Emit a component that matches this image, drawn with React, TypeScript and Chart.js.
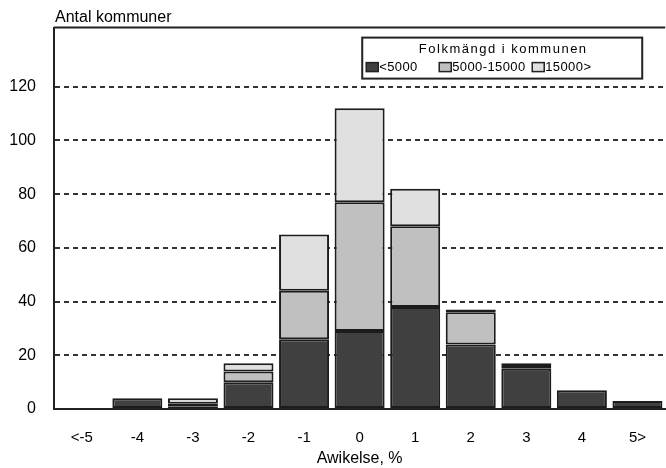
import React, { useEffect, useRef } from "react";
import { Chart, registerables } from "chart.js";

Chart.register(...registerables);

const categories = ["<-5", "-4", "-3", "-2", "-1", "0", "1", "2", "3", "4", "5>"];
const seriesNames = ["<5000", "5000-15000", "15000>"];
const small = [0, 4, 1, 10, 26, 29, 38, 24, 15, 7, 3];
const medium = [0, 0, 1, 4, 18, 48, 30, 12, 1, 0, 0];
const large = [0, 0, 2, 3, 21, 35, 14, 1, 1, 0, 0];
const seriesColors = ["#404040", "#c0c0c0", "#e0e0e0"];
const yTicks = [0, 20, 40, 60, 80, 100, 120];
const yTitle = "Antal kommuner";
const xTitle = "Awikelse, %";
const legendTitle = "Folkmängd i kommunen";

const FONT = "'Liberation Sans', Arial, sans-serif";

const decorPlugin = {
  id: "decor",
  afterDraw(chart: any) {
    const { ctx, chartArea } = chart;
    ctx.save();
    ctx.strokeStyle = "#222";
    ctx.lineWidth = 2;
    ctx.beginPath();
    ctx.moveTo(chartArea.left, chartArea.top);
    ctx.lineTo(chartArea.right, chartArea.top);
    ctx.stroke();
    ctx.fillStyle = "#000";
    ctx.font = `16px ${FONT}`;
    ctx.textBaseline = "middle";
    ctx.textAlign = "left";
    ctx.fillText(yTitle, chartArea.left + 1, 18);

    const bx = chartArea.right - 303;
    const by = chartArea.top + 10;
    const bw = 280;
    const bh = 41;
    ctx.fillStyle = "#fff";
    ctx.fillRect(bx, by, bw, bh);
    ctx.strokeStyle = "#222";
    ctx.lineWidth = 2;
    ctx.strokeRect(bx, by, bw, bh);
    ctx.fillStyle = "#000";
    (ctx as any).letterSpacing = "1.5px";
    ctx.font = `13px ${FONT}`;
    ctx.textAlign = "center";
    ctx.fillText(legendTitle, bx + bw / 2 + 1, by + 12);
    (ctx as any).letterSpacing = "0.4px";
    ctx.textAlign = "left";
    const ds = chart.data.datasets;
    const offsets = [4, 77, 170];
    ds.forEach((d: any, i: number) => {
      const x = bx + offsets[i];
      const y = by + 25;
      ctx.fillStyle = d.backgroundColor;
      ctx.fillRect(x, y, 12, 9);
      ctx.lineWidth = 1.5;
      ctx.strokeStyle = "#222";
      ctx.strokeRect(x, y, 12, 9);
      ctx.fillStyle = "#000";
      ctx.font = `13px ${FONT}`;
      ctx.fillText(d.label, x + 13, y + 5);
    });
    (ctx as any).letterSpacing = "0px";
    ctx.restore();
  },
};

export default function App() {
  const ref = useRef<HTMLCanvasElement | null>(null);
  useEffect(() => {
    if (!ref.current) return;
    const data = [small, medium, large];
    const chart = new Chart(ref.current, {
      type: "bar",
      data: {
        labels: categories,
        datasets: data.map((vals, i) => ({
          label: seriesNames[i],
          data: vals,
          backgroundColor: seriesColors[i],
          borderColor: "#1c1c1c",
          borderWidth: 2,
          borderSkipped: false,
          barPercentage: 0.9,
          categoryPercentage: 1,
        })),
      },
      options: {
        animation: false,
        responsive: true,
        maintainAspectRatio: false,
        layout: { padding: { top: 27, right: 0, left: 0, bottom: 0 } },
        plugins: { legend: { display: false }, tooltip: { enabled: false }, title: { display: false } },
        scales: {
          x: {
            stacked: true,
            grid: { display: false, drawTicks: false },
            border: { display: true, color: "#222", width: 2 },
            ticks: { color: "#000", font: { family: FONT, size: 15 }, padding: 20, maxRotation: 0 },
            title: { display: true, text: xTitle, color: "#000", font: { family: FONT, size: 16 }, padding: { top: 0, bottom: 0 } },
            afterFit: (s: any) => { s.height = 59; },
          },
          y: {
            stacked: true,
            min: 0,
            max: 142,
            afterBuildTicks: (s: any) => { s.ticks = yTicks.map((v) => ({ value: v })); },
            grid: {
              drawTicks: false,
              color: (c: any) => (c.tick && c.tick.value === 0 ? "rgba(0,0,0,0)" : "#333"),
              lineWidth: 2,
            },
            border: { display: true, color: "#222", width: 2, dash: [5, 4] } as any,
            ticks: { color: "#000", font: { family: FONT, size: 16 }, padding: 18 },
            afterFit: (s: any) => { s.width = 54; },
          },
        },
      },
      plugins: [decorPlugin],
    });
    return () => chart.destroy();
  }, []);
  return (
    <div style={{ position: "fixed", left: 0, top: 0, width: 666, height: 468, background: "#fff" }}>
      <canvas ref={ref} />
    </div>
  );
}
